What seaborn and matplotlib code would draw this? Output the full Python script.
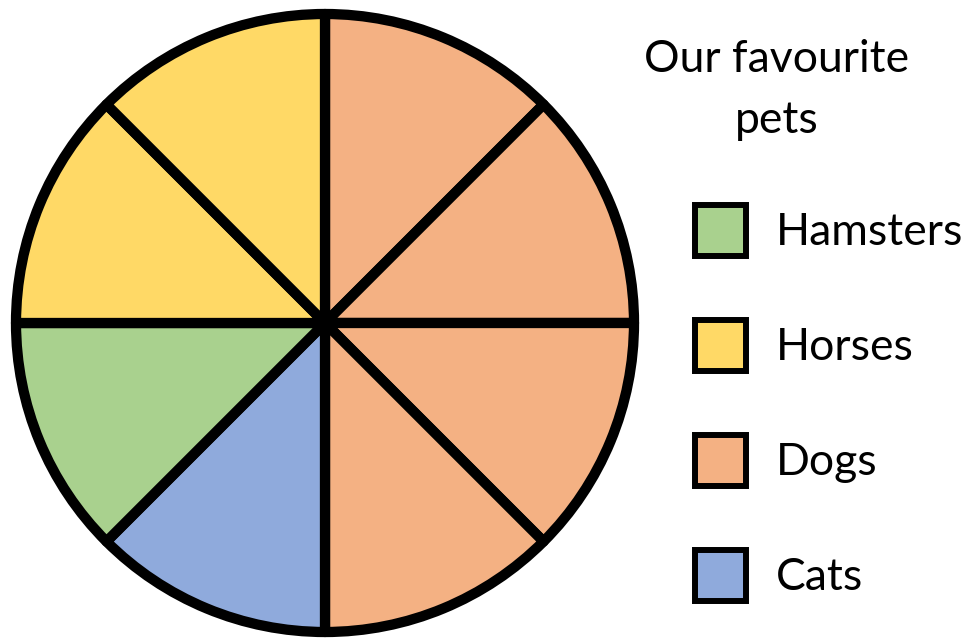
import matplotlib
matplotlib.use("Agg")
import matplotlib.pyplot as plt
import seaborn as sns
from matplotlib.patches import Patch

# Legend order and colours
pets = ["Hamsters", "Horses", "Dogs", "Cats"]
pet_colors = ["#A9D18E", "#FFD966", "#F4B183", "#8FAADC"]

# One entry per slice, clockwise from 12 o'clock
slice_pets = ["Dogs", "Dogs", "Dogs", "Dogs", "Cats", "Hamsters", "Horses", "Horses"]
slice_votes = [1, 1, 1, 1, 1, 1, 1, 1]

legend_title = "Our favourite\npets"

sns.set_theme(style="white")
plt.rcParams["font.family"] = ["Lato", "DejaVu Sans"]
plt.rcParams["text.color"] = "black"

W, H = 967, 641
fig = plt.figure(figsize=(W / 100, H / 100), dpi=100)
ax = fig.add_axes([0, 0, 1, 1])

color_of = dict(zip(pets, pet_colors))
ax.pie(
    slice_votes,
    colors=[color_of[p] for p in slice_pets],
    startangle=90,
    counterclock=False,
    center=(325, H - 323),
    radius=309,
    frame=True,
    wedgeprops=dict(edgecolor="black", linewidth=7.4, joinstyle="round"),
)
ax.set_xlim(0, W)
ax.set_ylim(0, H)
ax.set_aspect("equal")
ax.axis("off")

FS = 32
handles = [Patch(facecolor=c, edgecolor="black", linewidth=4.3) for c in pet_colors]
fig.legend(
    handles,
    pets,
    loc="upper left",
    bbox_to_anchor=(695 / W, 1 - 205 / H),
    frameon=False,
    fontsize=FS,
    labelcolor="black",
    handlelength=1.15,
    handleheight=1.39,
    handletextpad=0.68,
    labelspacing=1.44,
    borderpad=0,
    borderaxespad=0,
)

fig.text(777 / W, 1 - 39 / H, legend_title, ha="center", va="top",
         fontsize=FS, color="black", linespacing=1.6)

fig.savefig("out.png", dpi=100)
